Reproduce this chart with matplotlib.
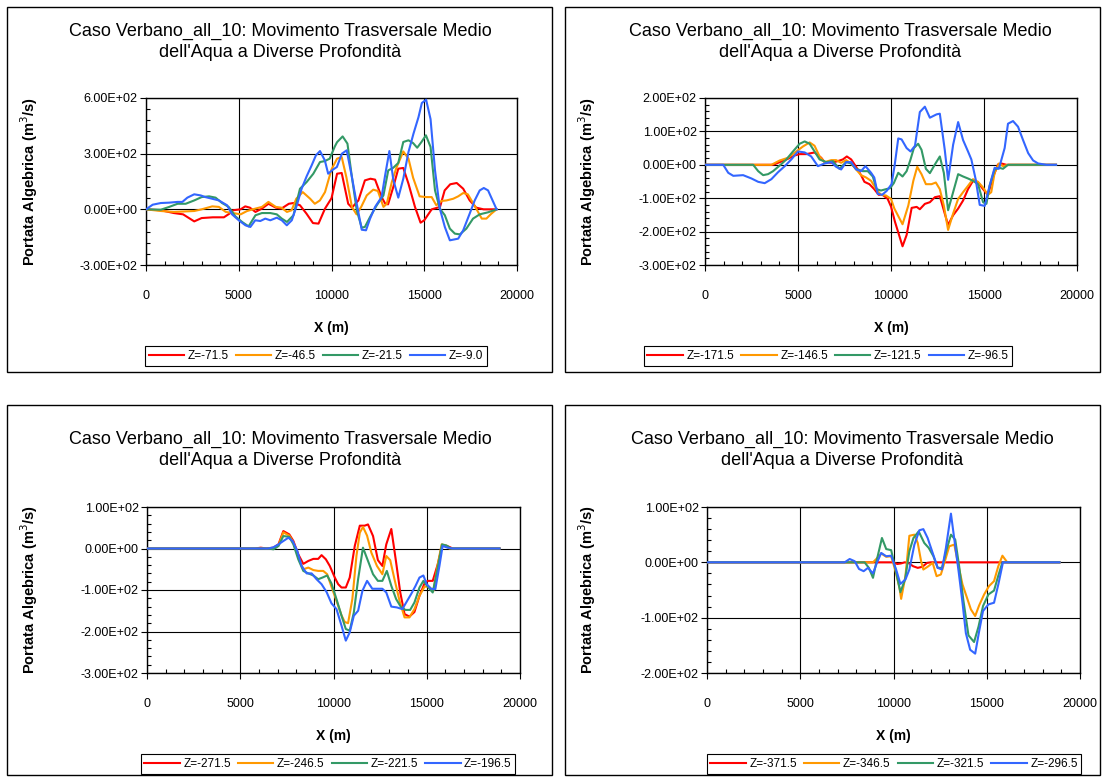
import matplotlib
matplotlib.use("Agg")
import matplotlib.pyplot as plt
from matplotlib.ticker import MultipleLocator, FormatStrFormatter
from matplotlib.patches import Rectangle

plt.rcParams['font.family'] = ['Liberation Sans', 'DejaVu Sans']

TITLE = "Caso Verbano_all_10: Movimento Trasversale Medio\ndell'Aqua a Diverse Profondità"
COLORS = ['#ff0000', '#ff9900', '#339966', '#3366ff']

# ---- panel 1 (top left)
labels_1 = ['Z=-71.5', 'Z=-46.5', 'Z=-21.5', 'Z=-9.0']
z_71_5 = [(0, 0), (800, -5), (1500, -20), (2000, -27), (2600, -65), (3000, -47), (3600, -43), (4200, -43),
          (4500, -23), (4700, -5), (5100, 0), (5350, 16), (5600, 9), (5900, -14), (6250, 4), (6600, 30),
          (7000, 9), (7300, 4), (7700, 30), (7950, 34), (8300, 22), (8650, -23), (9000, -74), (9300, -77),
          (9650, 4), (10000, 60), (10300, 192), (10550, 196), (10900, 30), (11100, 9), (11450, 48),
          (11800, 156), (12100, 165), (12350, 160), (12700, 66), (12900, 30), (13050, 27), (13330, 120),
          (13600, 219), (13870, 223), (14150, 138), (14500, 13), (14800, -72), (15000, -59), (15400, 0),
          (15850, 13), (16100, 102), (16400, 135), (16750, 142), (17100, 111), (17450, 48), (17800, 9),
          (18200, 0), (18900, 0)]
z_46_5 = [(0, 0), (800, -9), (1500, -14), (2600, -9), (3000, 0), (3570, 16), (3930, 13), (4300, -14),
          (4700, -20), (5100, -27), (5450, -9), (5900, 4), (6250, 13), (6600, 40), (7000, 13), (7300, 9),
          (7600, -14), (7850, -5), (8100, 57), (8450, 93), (8850, 57), (9100, 30), (9375, 48), (9650, 93),
          (10000, 215), (10300, 273), (10550, 282), (10800, 174), (11100, 13), (11350, -27), (11600, 13),
          (11900, 75), (12250, 106), (12500, 99), (12800, 13), (12980, 30), (13250, 147), (13500, 224),
          (13870, 312), (14150, 273), (14400, 170), (14750, 70), (15100, 66), (15400, 66), (15650, 22),
          (15930, 45), (16200, 48), (16560, 57), (16830, 70), (17100, 88), (17350, 81), (17700, 22),
          (18100, -50), (18350, -50), (18620, -23), (18900, 0)]
z_21_5 = [(0, 0), (800, -2), (1250, 13), (1700, 30), (2140, 30), (2600, 48), (3000, 66), (3400, 70),
          (3750, 63), (4100, 34), (4460, 13), (4820, -38), (5180, -68), (5530, -92), (5900, -32),
          (6250, -20), (6700, -20), (7050, -27), (7320, -50), (7600, -68), (7950, -32), (8300, 111),
          (8660, 147), (9020, 192), (9380, 255), (9640, 260), (9900, 273), (10180, 339), (10300, 362),
          (10600, 393), (10860, 354), (11100, 174), (11360, -5), (11630, -99), (11800, -95), (12080, -41),
          (12440, 22), (12800, 75), (13060, 210), (13330, 224), (13600, 250), (13870, 363), (14150, 372),
          (14400, 357), (14620, 332), (14850, 363), (15090, 399), (15340, 336), (15580, 102), (15840, 4),
          (16110, -32), (16380, -104), (16650, -131), (16920, -135), (17270, -104), (17630, -50),
          (17990, -27), (18440, -16), (18900, 0)]
z_9_0 = [(0, 0), (360, 25), (800, 34), (1250, 36), (1700, 40), (1960, 40), (2230, 63), (2600, 81),
         (2950, 75), (3200, 66), (3570, 57), (3930, 48), (4370, 22), (4640, -27), (5000, -59), (5360, -86),
         (5625, -95), (5890, -59), (6160, -63), (6430, -50), (6700, -59), (7050, -45), (7320, -59),
         (7590, -86), (7860, -59), (8130, 22), (8390, 111), (8660, 178), (8930, 237), (9160, 291),
         (9380, 314), (9640, 264), (9820, 192), (10090, 215), (10290, 228), (10560, 300), (10820, 318),
         (11100, 174), (11360, 30), (11630, -110), (11860, -113), (12080, -50), (12350, 13), (12700, 66),
         (12890, 183), (13120, 314), (13330, 160), (13600, 63), (13870, 165), (14150, 309), (14420, 408),
         (14690, 497), (14870, 573), (15100, 591), (15340, 486), (15580, 210), (15840, 4), (16110, -95),
         (16380, -167), (16830, -158), (17100, -113), (17450, -23), (17720, 48), (17990, 102),
         (18210, 115), (18440, 102), (18900, 0)]

# ---- panel 2 (top right)
labels_2 = ['Z=-171.5', 'Z=-146.5', 'Z=-121.5', 'Z=-96.5']
z_171_5 = [(0, 0), (3660, 0), (4020, 8), (4460, 18), (4820, 28), (5090, 32), (5450, 32), (5890, 37),
           (6250, 21), (6430, 8), (6790, 6), (7140, 11), (7410, 16), (7625, 25), (7860, 16), (8125, -6),
           (8390, -31), (8570, -51), (8840, -58), (9100, -73), (9340, -90), (9550, -90), (9820, -102),
           (10000, -125), (10210, -170), (10620, -244), (10840, -210), (11110, -129), (11380, -126),
           (11550, -133), (11820, -117), (12090, -112), (12360, -97), (12625, -94), (12890, -146),
           (13070, -180), (13340, -151), (13610, -131), (13875, -107), (14140, -73), (14410, -48),
           (14680, -53), (14950, -73), (15210, -90), (15480, -38), (15750, 1), (15930, 4), (16200, 0),
           (18870, 0)]
z_146_5 = [(0, 0), (3570, 0), (4020, 13), (4460, 21), (4910, 40), (5270, 55), (5625, 67), (5890, 57),
           (6160, 25), (6430, 8), (6790, 14), (7050, 14), (7320, 6), (7590, 14), (7860, 4), (8125, -14),
           (8390, -31), (8660, -38), (8930, -48), (9200, -73), (9460, -90), (9730, -92), (10000, -102),
           (10180, -131), (10620, -178), (10930, -122), (11200, -48), (11410, -6), (11640, -28),
           (11875, -58), (12180, -58), (12410, -53), (12625, -73), (12840, -122), (13070, -195),
           (13340, -146), (13610, -102), (13875, -82), (14140, -63), (14410, -43), (14680, -51),
           (14950, -68), (15210, -90), (15390, -82), (15570, -24), (15800, 4), (16020, -4), (16290, 0),
           (18870, 0)]
z_121_5 = [(0, 0), (2590, 0), (2860, -19), (3125, -31), (3390, -28), (3660, -19), (4020, -2), (4375, 16),
           (4730, 40), (5090, 63), (5360, 70), (5625, 63), (5890, 40), (6160, 16), (6520, 8), (6875, 11),
           (7230, -12), (7590, 8), (7860, 4), (8125, -12), (8480, -19), (8750, -19), (9020, -35),
           (9230, -73), (9460, -77), (9730, -73), (9950, -70), (10150, -55), (10390, -24), (10620, -35),
           (10840, -19), (11050, 16), (11230, 50), (11460, 63), (11640, 45), (11875, -12), (12090, -25),
           (12360, 1), (12625, 25), (12840, -24), (13070, -136), (13340, -82), (13610, -28), (13875, -35),
           (14140, -41), (14410, -48), (14680, -58), (14950, -112), (15130, -117), (15300, -63),
           (15570, -14), (15820, -9), (16020, -12), (16290, 0), (18870, 0)]
z_96_5 = [(0, 0), (980, 0), (1250, -24), (1520, -33), (2050, -31), (2500, -41), (2860, -51), (3210, -55),
          (3570, -43), (3930, -22), (4290, -4), (4640, 16), (5000, 40), (5360, 37), (5710, 25), (6070, -4),
          (6430, 4), (6790, 8), (7050, -6), (7320, -14), (7590, 8), (7860, 8), (8125, -14), (8390, -19),
          (8625, -4), (8930, -24), (9100, -38), (9285, -87), (9520, -90), (9770, -78), (10030, -58),
          (10200, 0), (10390, 79), (10570, 76), (10840, 50), (11050, 40), (11290, 57), (11550, 158),
          (11820, 174), (12090, 141), (12450, 151), (12625, 153), (12890, 45), (13070, -45), (13340, 60),
          (13610, 128), (13875, 74), (14140, 40), (14320, 16), (14550, -43), (14770, -120), (15040, -123),
          (15300, -63), (15570, -9), (15800, -12), (16110, 50), (16290, 123), (16560, 131), (16830, 114),
          (17100, 74), (17375, 35), (17640, 13), (17910, 4), (18360, 0), (18875, 0)]

# ---- panel 3 (bottom left)
labels_3 = ['Z=-271.5', 'Z=-246.5', 'Z=-221.5', 'Z=-196.5']
z_271_5 = [(0, 0), (5800, 0), (6100, 2), (6400, 0), (6780, 2), (7050, 10), (7310, 42), (7630, 34),
           (7850, 18), (8110, -14), (8380, -37), (8650, -30), (8920, -25), (9180, -25), (9360, -16),
           (9590, -26), (9800, -42), (10070, -70), (10250, -86), (10430, -94), (10660, -94), (10870, -70),
           (11140, 6), (11410, 55), (11670, 55), (11850, 58), (12120, 30), (12380, -28), (12620, -42),
           (12830, 10), (13100, 47), (13360, -34), (13580, -106), (13810, -158), (14070, -164),
           (14340, -153), (14610, -114), (14880, -84), (15050, -78), (15320, -78), (15590, -38),
           (15820, 6), (16030, 7), (16250, 3), (16390, 0), (18900, 0)]
z_246_5 = [(0, 0), (6780, 0), (7050, 7), (7310, 39), (7630, 31), (7850, 14), (8110, -20), (8380, -50),
           (8650, -46), (8920, -52), (9180, -54), (9450, -54), (9660, -62), (9890, -92), (10160, -126),
           (10430, -161), (10600, -177), (10780, -180), (11010, -122), (11230, -18), (11410, 38),
           (11580, 52), (11800, 31), (12030, -10), (12330, -42), (12620, -62), (12830, -18), (13040, -28),
           (13270, -74), (13540, -126), (13810, -166), (14070, -166), (14340, -146), (14610, -114),
           (14880, -92), (15110, -92), (15360, -102), (15590, -38), (15800, 10), (16030, 6), (16210, 0),
           (18900, 0)]
z_221_5 = [(0, 0), (6500, 0), (6780, -2), (7050, 6), (7310, 30), (7630, 28), (7850, 10), (8110, -26),
           (8380, -54), (8650, -60), (8920, -65), (9180, -74), (9410, -70), (9660, -65), (9890, -84),
           (10160, -122), (10430, -162), (10660, -194), (10870, -198), (11090, -154), (11320, -74),
           (11580, 2), (11850, -30), (12120, -62), (12380, -78), (12620, -78), (12860, -54), (13100, -90),
           (13360, -122), (13630, -142), (13860, -148), (14110, -148), (14340, -130), (14610, -94),
           (14820, -78), (15050, -92), (15320, -106), (15590, -46), (15820, 10), (16070, 7), (16300, 0),
           (18900, 0)]
z_196_5 = [(0, 0), (6500, 0), (6780, 3), (7050, 10), (7310, 18), (7580, 26), (7810, 18), (8060, -6),
           (8290, -42), (8560, -60), (8830, -60), (9090, -74), (9360, -86), (9630, -105), (9890, -132),
           (10160, -146), (10430, -186), (10660, -222), (10870, -202), (11090, -162), (11320, -150),
           (11550, -102), (11800, -78), (12080, -97), (12330, -97), (12620, -97), (12830, -106),
           (13100, -140), (13400, -142), (13690, -146), (13900, -130), (14160, -110), (14400, -90),
           (14610, -70), (14820, -65), (15000, -86), (15230, -97), (15460, -98), (15680, -42), (15850, 6),
           (16120, 2), (16390, 0), (18900, 0)]

# ---- panel 4 (bottom right)
labels_4 = ['Z=-371.5', 'Z=-346.5', 'Z=-321.5', 'Z=-296.5']
z_371_5 = [(0, 0), (10000, 0), (10200, -3), (10400, -2), (10600, 0), (10800, -1), (11050, -7),
           (11300, -10), (11550, -8), (11800, -1), (12000, 0), (18900, 0)]
z_346_5 = [(0, 0), (8900, 0), (9075, 6), (9340, 16), (9610, 10), (9875, 11), (10110, -16), (10320, -46),
           (10410, -66), (10640, -25), (10850, 48), (11120, 50), (11300, 35), (11480, 2), (11600, -13),
           (11830, -8), (12100, -1), (12310, -25), (12540, -22), (12780, 5), (12990, 29), (13260, 32),
           (13490, -7), (13700, -40), (13970, -67), (14150, -85), (14380, -97), (14590, -78), (14860, -58),
           (15120, -43), (15390, -34), (15620, -7), (15840, 12), (16100, 0), (18900, 0)]
z_321_5 = [(0, 0), (8450, 0), (8680, -10), (8900, -28), (9110, 5), (9380, 44), (9610, 24), (9875, 22),
           (10110, -13), (10370, -54), (10620, -31), (10850, 20), (11070, 44), (11350, 56), (11650, 35),
           (11890, 26), (12140, 11), (12370, -10), (12600, -10), (12850, 23), (13080, 50), (13310, 41),
           (13520, -7), (13740, -67), (14020, -132), (14320, -144), (14560, -116), (14800, -79),
           (15090, -58), (15390, -51), (15620, -24), (15840, 0), (18900, 0)]
z_296_5 = [(0, 0), (7380, 0), (7650, 6), (7920, 2), (8150, -12), (8400, -16), (8630, -10), (8900, -20),
           (9110, -1), (9340, 17), (9610, 11), (9875, 12), (10140, -13), (10370, -39), (10640, -31),
           (10850, -13), (11120, 32), (11390, 58), (11600, 60), (11830, 44), (12100, 17), (12370, -10),
           (12600, -13), (12810, 26), (13080, 88), (13260, 42), (13490, -16), (13700, -73), (13880, -128),
           (14110, -158), (14380, -165), (14590, -125), (14800, -88), (15090, -76), (15390, -73),
           (15620, -40), (15870, 0), (18900, 0)]

W, H = 1106, 780
fig = plt.figure(figsize=(W / 100, H / 100), dpi=100)
fig.patch.set_facecolor('white')


def fx(px):
    return px / W


def fy(py):
    return 1 - py / H


# panel: frame box, axes box (pixels), y range, y step, series, labels, title centre, legend centre
panels = [
    dict(frame=(7, 7, 552, 372), axes=(146, 98, 517, 265), ylim=(-300, 600), ystep=300,
         series=[z_71_5, z_46_5, z_21_5, z_9_0], labels=labels_1, title=(280, 42), legend=(316, 356)),
    dict(frame=(565, 7, 1100, 372), axes=(705, 98, 1077, 265), ylim=(-300, 200), ystep=100,
         series=[z_171_5, z_146_5, z_121_5, z_96_5], labels=labels_2, title=(840, 42), legend=(828, 356)),
    dict(frame=(7, 405, 552, 775), axes=(147, 507, 520, 673), ylim=(-300, 100), ystep=100,
         series=[z_271_5, z_246_5, z_221_5, z_196_5], labels=labels_3, title=(280, 450), legend=(328, 764)),
    dict(frame=(565, 405, 1100, 775), axes=(707, 507, 1080, 673), ylim=(-200, 100), ystep=100,
         series=[z_371_5, z_346_5, z_321_5, z_296_5], labels=labels_4, title=(842, 450), legend=(894, 764)),
]

for p in panels:
    x0, y0, x1, y1 = p['frame']
    fig.patches.append(Rectangle((fx(x0), fy(y1)), fx(x1 - x0), (y1 - y0) / H, transform=fig.transFigure,
                                 fill=False, edgecolor='black', lw=1.0))
    fig.text(fx(p['title'][0]), fy(p['title'][1]), TITLE, ha='center', va='center', fontsize=13,
             linespacing=1.3)

    l, t, r, b = p['axes']
    ax = fig.add_axes([fx(l), fy(b), fx(r - l), (b - t) / H])
    for pts, c, lab in zip(p['series'], COLORS, p['labels']):
        xs = [q[0] for q in pts]
        ys = [q[1] for q in pts]
        ax.plot(xs, ys, color=c, lw=1.5, label=lab, zorder=3)

    ax.set_xlim(0, 20000)
    ax.set_ylim(*p['ylim'])
    ax.xaxis.set_major_locator(MultipleLocator(5000))
    ax.xaxis.set_minor_locator(MultipleLocator(1000))
    ax.yaxis.set_major_locator(MultipleLocator(p['ystep']))
    ax.yaxis.set_minor_locator(MultipleLocator(p['ystep'] / 5))
    ax.yaxis.set_major_formatter(FormatStrFormatter('%.2E'))
    ax.grid(which='major', color='black', lw=0.8, zorder=1)
    ax.tick_params(which='major', direction='out', length=4, width=0.8, labelsize=9)
    ax.tick_params(axis='x', which='major', pad=14)
    ax.tick_params(axis='y', which='major', pad=2)
    ax.tick_params(which='minor', direction='in', length=3, width=0.8)
    for s in ax.spines.values():
        s.set_linewidth(1.0)

    ax.set_ylabel('Portata Algebrica (m$^3$/s)', fontsize=10.5, fontweight='bold')
    ax.yaxis.set_label_coords((x0 + 33 - l) / (r - l), 0.5)
    ax.set_xlabel('X (m)', fontsize=10, fontweight='bold')
    ax.xaxis.set_label_coords(0.5, -(56) / (b - t))

    leg = ax.legend(loc='center', bbox_to_anchor=(fx(p['legend'][0]), fy(p['legend'][1])),
                    bbox_transform=fig.transFigure, ncol=4, fontsize=8.5, frameon=True, fancybox=False,
                    framealpha=1, edgecolor='black', handlelength=3.0, handletextpad=0.3,
                    columnspacing=0.6, borderpad=0.3, borderaxespad=0)
    leg.get_frame().set_linewidth(0.8)

fig.savefig('out.png', dpi=100, facecolor='white')
